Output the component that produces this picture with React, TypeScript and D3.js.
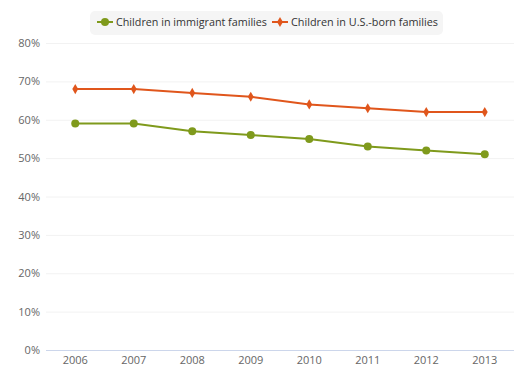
import React from "react";
import * as d3 from "d3";

const years = ["2006", "2007", "2008", "2009", "2010", "2011", "2012", "2013"];
const immigrant = [59, 59, 57, 56, 55, 53, 52, 51];
const usBorn = [68, 68, 67, 66, 64, 63, 62, 62];
const yTicks = [0, 10, 20, 30, 40, 50, 60, 70, 80];
const seriesNames = ["Children in immigrant families", "Children in U.S.-born families"];
const colors = ["#7f9a1c", "#e0561c"];

const W = 530;
const H = 382;
const left = 46;
const right = 514;
const top = 43;
const bottom = 350;
const font = "'Open Sans', 'DejaVu Sans', sans-serif";

export default function App() {
  const x = d3.scalePoint<string>().domain(years).range([left, right]).padding(0.5);
  const y = d3.scaleLinear().domain([0, 80]).range([bottom, top]);
  const line = d3
    .line<number>()
    .x((_, i) => x(years[i]) as number)
    .y((d) => y(d));
  const series = [immigrant, usBorn];
  const diamond = d3.symbol().type(d3.symbolDiamond).size(30)() || "";

  return (
    <svg width={W} height={H} style={{ position: "absolute", left: 0, top: 0, fontFamily: font }}>
      <rect width={W} height={H} fill="#fff" />
      {yTicks.map((t) => (
        <g key={t}>
          {t > 0 && (
            <line x1={left} x2={right} y1={y(t) + 0.5} y2={y(t) + 0.5} stroke="#f2f2f2" />
          )}
          <text x={40} y={y(t) + 4} textAnchor="end" fontSize={11} fill="#666">
            {t}%
          </text>
        </g>
      ))}
      <line x1={left} x2={right} y1={bottom + 0.5} y2={bottom + 0.5} stroke="#ccd6eb" />
      {years.map((yr) => (
        <text key={yr} x={x(yr) as number} y={364} textAnchor="middle" fontSize={11} fill="#666">
          {yr}
        </text>
      ))}
      {series.map((s, si) => (
        <g key={si}>
          <path d={line(s) || ""} fill="none" stroke={colors[si]} strokeWidth={2} />
          {s.map((v, i) =>
            si === 0 ? (
              <circle key={i} cx={x(years[i]) as number} cy={y(v)} r={4} fill={colors[si]} />
            ) : (
              <path
                key={i}
                d={diamond}
                transform={`translate(${x(years[i])},${y(v)})`}
                fill={colors[si]}
              />
            )
          )}
        </g>
      ))}
      <rect x={90} y={11} width={353} height={24} rx={5} fill="#f5f5f5" />
      {seriesNames.map((n, i) => {
        const lx = i === 0 ? 97 : 272;
        return (
          <g key={n}>
            <line x1={lx} x2={lx + 16} y1={22} y2={22} stroke={colors[i]} strokeWidth={2} />
            {i === 0 ? (
              <circle cx={lx + 8} cy={22} r={4} fill={colors[i]} />
            ) : (
              <path d={diamond} transform={`translate(${lx + 8},22)`} fill={colors[i]} />
            )}
            <text
              x={lx + 19}
              y={26}
              fontSize={11.3}
              fill="#333"
              textLength={i === 0 ? 151 : 147}
              lengthAdjust="spacingAndGlyphs"
            >
              {n}
            </text>
          </g>
        );
      })}
    </svg>
  );
}
